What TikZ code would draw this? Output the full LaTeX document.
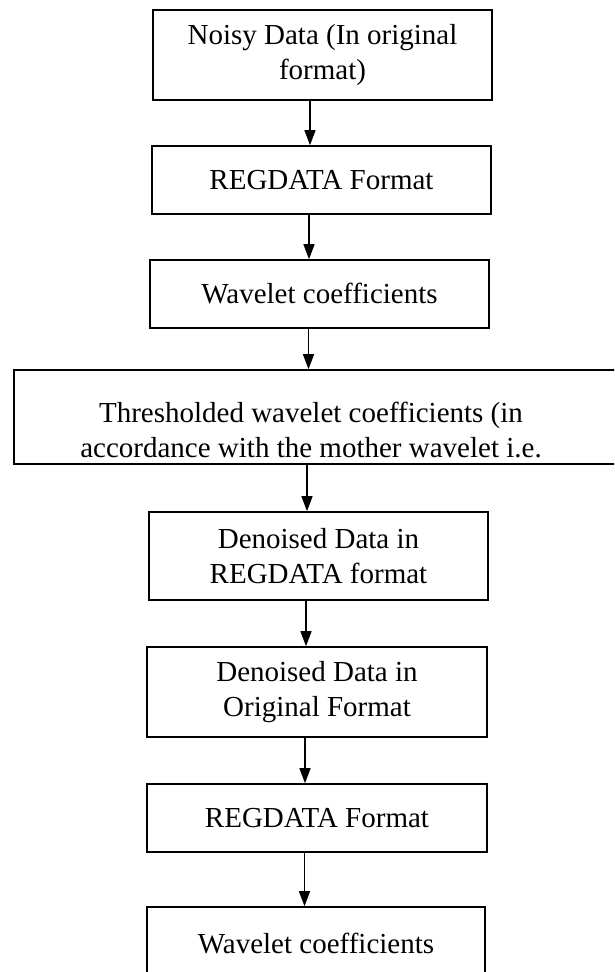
\documentclass[tikz,border=0pt]{standalone}
\usepackage{fontspec}
\setmainfont{Liberation Serif}
\usetikzlibrary{arrows.meta}
\begin{document}
\begin{tikzpicture}[x=1pt,y=-1pt,
  box/.style={draw, line width=1.6pt, inner sep=0pt, align=center, font=\fontsize{29}{35}\selectfont},
  lbl/.style={inner sep=0pt, align=center, font=\fontsize{29}{35}\selectfont},
  arr/.style={line width=1.3pt, -{Triangle[width=11pt,length=15pt]}}]
\useasboundingbox (0,0) rectangle (614,972);
\clip (0,0) rectangle (614,972);
\node[box, minimum width=339pt, minimum height=90pt] (b1) at (322.5,55) {Noisy Data (In original\\format)};
\node[box, minimum width=339pt, minimum height=68pt] (b2) at (321.5,180) {REGDATA Format};
\node[box, minimum width=339pt, minimum height=68pt] (b3) at (319.5,294) {Wavelet coefficients};
\node[box, minimum width=606pt, minimum height=94pt] (w4) at (317,417) {};
\node[lbl] (w4t) at (311,430) {Thresholded wavelet coefficients (in\\accordance with the mother wavelet i.e.};
\node[box, minimum width=339pt, minimum height=88pt] (b5) at (318.5,556) {Denoised Data in\\REGDATA format};
\node[box, minimum width=340pt, minimum height=90pt] (b6) at (317,692) {Denoised Data in\\Original Format};
\node[box, minimum width=340pt, minimum height=68pt] (b7) at (317,818) {REGDATA Format};
\node[box, minimum width=338pt, minimum height=72pt] (b8) at (316,943) {Wavelet coefficients};
\coordinate (x1) at (310,0);
\coordinate (x2) at (309,0);
\coordinate (x3) at (308.5,0);
\coordinate (x4) at (307,0);
\coordinate (x5) at (306,0);
\coordinate (x6) at (305,0);
\coordinate (x7) at (304.5,0);
\draw[arr] (b1.south -| x1) -- (b2.north -| x1);
\draw[arr] (b2.south -| x2) -- (b3.north -| x2);
\draw[arr] (b3.south -| x3) -- (w4.north -| x3);
\draw[arr] (w4.south -| x4) -- (b5.north -| x4);
\draw[arr] (b5.south -| x5) -- (b6.north -| x5);
\draw[arr] (b6.south -| x6) -- (b7.north -| x6);
\draw[arr] (b7.south -| x7) -- (b8.north -| x7);
\end{tikzpicture}
\end{document}
